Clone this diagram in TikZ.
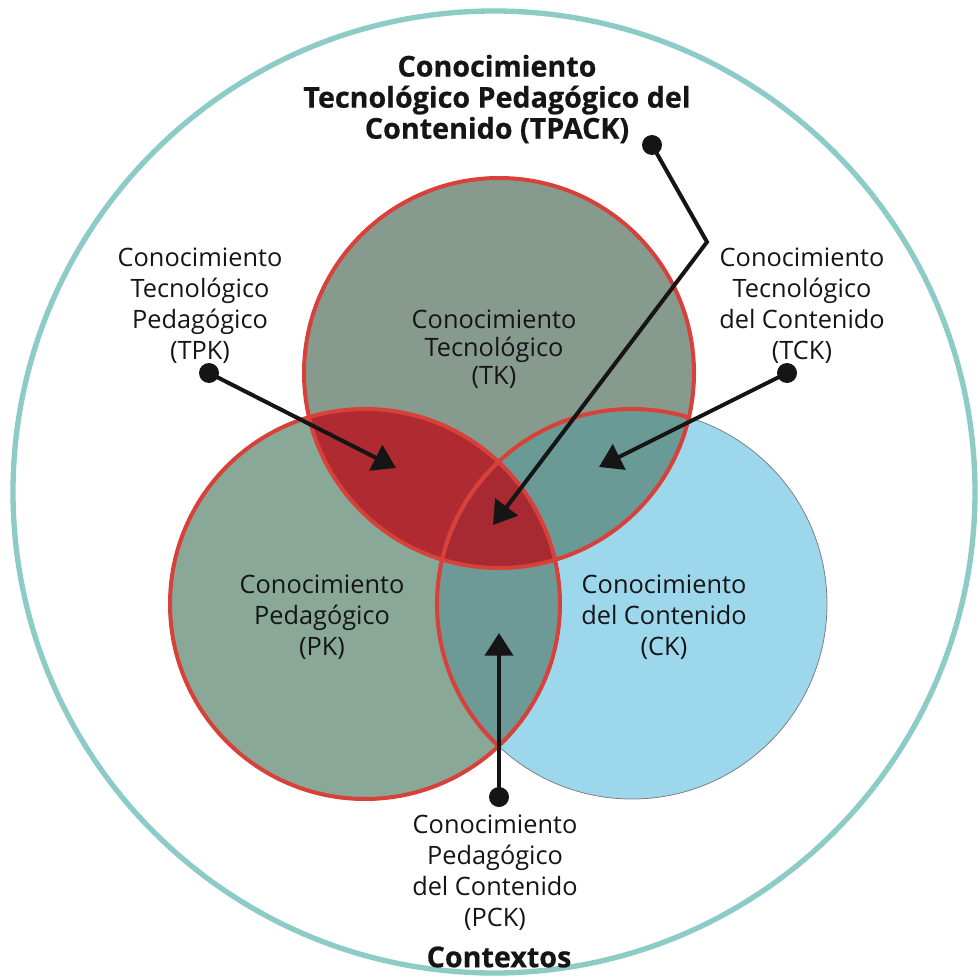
\documentclass[tikz,border=0pt]{standalone}
\usepackage{fontspec}
\setmainfont{Open Sans}[BoldFeatures={FakeBold=0.6}]
\usetikzlibrary{arrows.meta}

\definecolor{anillo}{HTML}{8CCBC6}
\definecolor{rojoborde}{HTML}{D8413A}
\definecolor{grisT}{HTML}{879A8E}
\definecolor{verdeP}{HTML}{89A898}
\definecolor{azulC}{HTML}{9DD7EC}
\definecolor{rojoTP}{HTML}{AF2A31}
\definecolor{tealTC}{HTML}{6A9A95}
\definecolor{tealPC}{HTML}{6D9A96}
\definecolor{rojoTPC}{HTML}{A72A33}
\definecolor{negro}{HTML}{151515}

\begin{document}
\begin{tikzpicture}[x=0.75pt,y=-0.75pt,font=\fontsize{19}{23.3}\selectfont,
  etiqueta/.style={align=center,text=negro,inner sep=0pt},
  titulo/.style={etiqueta,font=\fontsize{21.5}{23.3}\selectfont\bfseries},
  flecha/.style={draw=negro,line width=3pt,-{Triangle[length=17pt,width=21pt]}},
  borde/.style={draw=rojoborde,line width=3pt}]

\useasboundingbox (0,0) rectangle (978,977);
\pgfmathsetmacro{\radio}{195}

\coordinate (t) at (499,373);
\coordinate (p) at (365,604);
\coordinate (c) at (632,604);

% contextos
\draw[anillo,line width=4pt] (494,492) circle (481);

% circulos
\fill[azulC] (c) circle (\radio);
\draw[gray,line width=0.6pt] (c) circle (\radio);
\fill[verdeP] (p) circle (\radio);
\fill[grisT] (t) circle (\radio);

% intersecciones
\begin{scope}
\clip (p) circle (\radio);
\fill[rojoTP] (t) circle (\radio);
\fill[tealPC] (c) circle (\radio);
\end{scope}
\begin{scope}
\clip (t) circle (\radio);
\fill[tealTC] (c) circle (\radio);
\clip (p) circle (\radio);
\fill[rojoTPC] (c) circle (\radio);
\end{scope}

% bordes
\begin{scope}
\clip (t) circle (\radio);
\draw[borde] (c) circle (\radio);
\end{scope}
\begin{scope}
\clip (p) circle (\radio);
\draw[borde] (c) circle (\radio);
\end{scope}
\draw[borde] (t) circle (\radio);
\draw[borde] (p) circle (\radio);

% textos
\node[titulo] (tpack) at (497,99) {Conocimiento\\Tecnológico Pedagógico del\\Contenido (TPACK)};
\node[etiqueta] (tpk) at (200,306) {Conocimiento\\Tecnológico\\Pedagógico\\(TPK)};
\node[etiqueta] (tck) at (802,306) {Conocimiento\\Tecnológico\\del Contenido\\(TCK)};
\node[etiqueta,font=\fontsize{19}{21}\selectfont] (tk) at (494,349) {Conocimiento\\Tecnológico\\(TK)};
\node[etiqueta] (pk) at (322,617) {Conocimiento\\Pedagógico\\(PK)};
\node[etiqueta] (ck) at (664,617) {Conocimiento\\del Contenido\\(CK)};
\node[etiqueta] (pck) at (495,873) {Conocimiento\\Pedagógico\\del Contenido\\(PCK)};
\node[titulo] (ctx) at (499,957) {Contextos};

% flechas
\coordinate (tpack-p) at (652,145);
\coordinate (tpack-q) at (707,242);
\coordinate (tpack-f) at (493,525);
\coordinate (tpk-p) at (209,373);
\coordinate (tpk-f) at (396,468);
\coordinate (tck-p) at (787,373);
\coordinate (tck-f) at (599,467);
\coordinate (pck-p) at (499,797);
\coordinate (pck-f) at (499,633);

\draw[flecha] (tpack-p) -- (tpack-q) -- (tpack-f);
\fill[negro] (tpack-p) circle (10);
\draw[flecha] (tpk-p) -- (tpk-f);
\fill[negro] (tpk-p) circle (10);
\draw[flecha] (tck-p) -- (tck-f);
\fill[negro] (tck-p) circle (10);
\draw[flecha] (pck-p) -- (pck-f);
\fill[negro] (pck-p) circle (10);

\end{tikzpicture}
\end{document}
